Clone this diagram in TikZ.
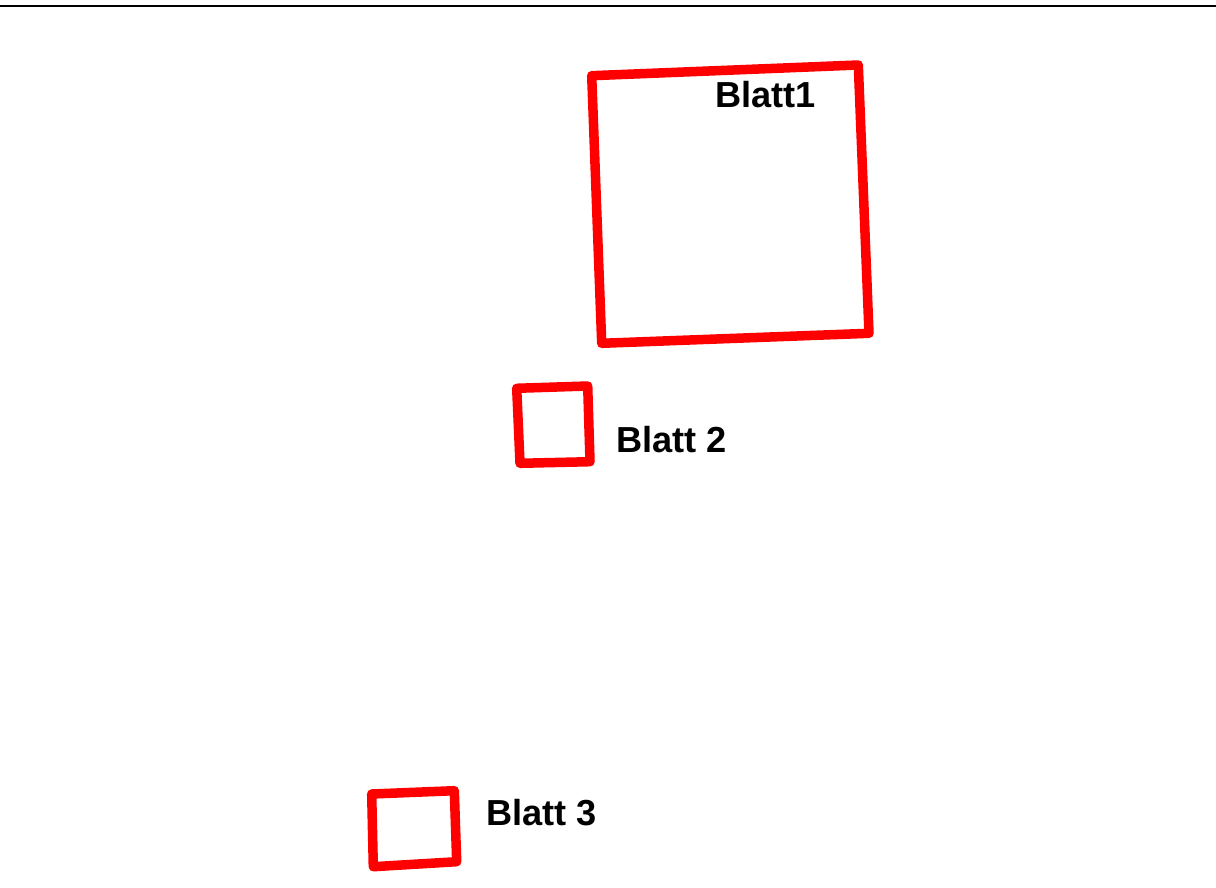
\documentclass[tikz,border=0pt]{standalone}
\usepackage{fontspec}
\setmainfont{Liberation Sans}
\usepackage{tikz}
\definecolor{myred}{RGB}{255,0,0}

\begin{document}
\begin{tikzpicture}[x=0.02cm, y=-0.02cm,
        blatt/.style={myred, line width=0.19cm, line join=round},
        blattlabel/.style={anchor=base west, inner sep=2pt,
            font=\fontsize{20.6pt}{24pt}\selectfont\bfseries}]
        \def\W{1216}
        \def\H{888}
        \useasboundingbox (0,0) rectangle (\W,\H);

        % -- top rule across the whole page --
        \draw[black, line width=0.04cm] (0,6) -- (\W,6);

        % -- Blatt 1: large tilted square --
        \draw[blatt] (591.7,75.7) -- (858.3,65) -- (869,333.3)
            -- (601.7,343.3) -- cycle;
        \node[blattlabel, fill=white] (blatt1) at (711.5,107.5) {Blatt1};

        % -- Blatt 2 --
        \draw[blatt] (516.7,388.3) -- (587.7,386) -- (590,461.7)
            -- (520,463.3) -- cycle;
        \node[blattlabel] (blatt2) at (612.5,452.7) {Blatt 2};

        % -- Blatt 3 --
        \draw[blatt] (371.7,794) -- (454.3,790.7) -- (456.7,861.7)
            -- (373.3,866.7) -- cycle;
        \node[blattlabel] (blatt3) at (482.5,825) {Blatt 3};

\end{tikzpicture}
\end{document}
